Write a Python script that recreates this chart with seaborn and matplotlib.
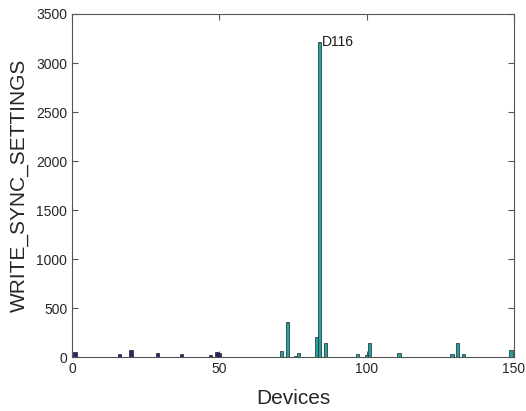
import numpy as np
import pandas as pd
import matplotlib
matplotlib.use("Agg")
import matplotlib.pyplot as plt
import seaborn as sns

# ---- data ----
device_ids = list(range(1, 151))
values = [
    50, 3, 2, 3, 4, 2, 3, 2, 5, 3, 2, 4, 3, 2, 3, 35, 4, 3, 2, 75,
    5, 3, 4, 2, 3, 4, 2, 3, 40, 3, 2, 3, 4, 2, 3, 4, 30, 3, 2, 3,
    4, 2, 3, 2, 4, 3, 25, 4, 55, 45, 3, 2, 3, 4, 2, 3, 2, 3, 4, 2,
    3, 2, 4, 3, 2, 3, 4, 2, 3, 5, 60, 4, 360, 3, 5, 15, 40, 4, 3, 5,
    3, 4, 210, 3210, 4, 145, 3, 2, 4, 3, 2, 3, 4, 2, 3, 4, 32, 3, 4, 20,
    148, 4, 3, 2, 4, 3, 2, 3, 4, 3, 40, 3, 2, 4, 3, 2, 3, 4, 2, 3,
    4, 3, 2, 3, 4, 2, 3, 4, 30, 3, 142, 4, 35, 3, 2, 4, 3, 2, 3, 4,
    2, 3, 4, 3, 2, 3, 4, 2, 75, 4,
]
groups = ["A" if d <= 56 else "B" for d in device_ids]
peak_label = "D116"
x_ticks = [0, 50, 100, 150]
y_ticks = [0, 500, 1000, 1500, 2000, 2500, 3000, 3500]

df = pd.DataFrame({"device": device_ids, "value": values, "group": groups})

sns.set_style("white")
plt.rcParams["font.family"] = ["Liberation Sans", "DejaVu Sans"]

fig = plt.figure(figsize=(5.26, 4.11), dpi=100)
ax = fig.add_axes([0.137, 0.131, 0.840, 0.835])

palette = {"A": "#262670", "B": "#1fa3a3"}
sns.barplot(data=df, x="device", y="value", hue="group", palette=palette,
            native_scale=True, dodge=False, width=1.05, edgecolor="#222222",
            linewidth=0.5, legend=False, ax=ax, saturation=1)

ax.set_xlim(0, 150)
ax.set_ylim(0, 3500)
ax.set_xticks(x_ticks)
ax.set_yticks(y_ticks)
ax.set_xticklabels([str(t) for t in x_ticks])
ax.set_yticklabels([str(t) for t in y_ticks])

axis_col = "#555555"
for s in ax.spines.values():
    s.set_visible(True)
    s.set_color(axis_col)
    s.set_linewidth(0.8)
ax.tick_params(direction="in", length=4, width=0.8, colors=axis_col,
               labelcolor="#262626", labelsize=10,
               top=True, right=True, bottom=True, left=True)

ax.set_xlabel("Devices", fontsize=15, color="#262626", labelpad=9)
ax.set_ylabel("WRITE_SYNC_SETTINGS", fontsize=15, color="#262626", labelpad=5)

pk = int(np.argmax(values))
ax.text(device_ids[pk] + 0.7, values[pk], peak_label, fontsize=10,
        ha="left", va="center", color="#1a1a1a")

fig.savefig("out.png", dpi=100)
